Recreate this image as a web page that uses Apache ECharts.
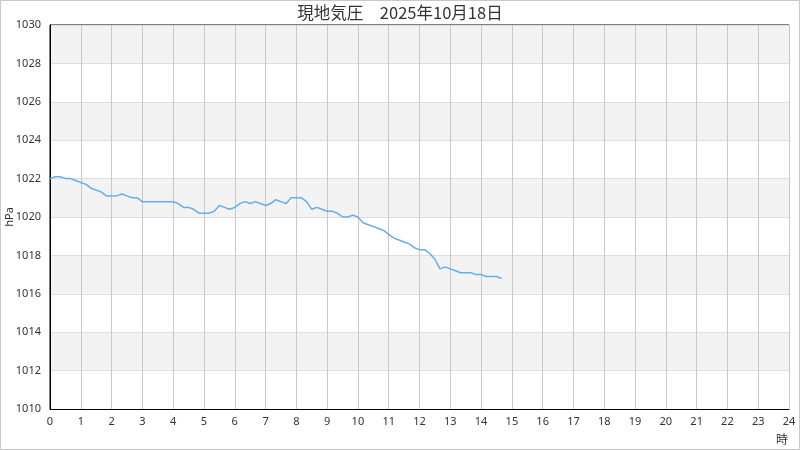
<!DOCTYPE html>
<html>
<head>
<meta charset="utf-8">
<script src="https://cdn.jsdelivr.net/npm/echarts@6/dist/echarts.min.js"></script>
<style>
html,body{margin:0;padding:0;background:#fff;}
#c{width:800px;height:450px;}
</style>
</head>
<body>
<div id="c"></div>
<script>
// ---- data ----
const titleText = '現地気圧　2025年10月18日';
const yAxisName = 'hPa';
const xAxisName = '時';
const startHour = 0;          // first observation hour
const stepMinutes = 10;       // observation interval
// pressure readings every 10 minutes from 0:00 to 14:40
const pressure = [
  1022.0, 1022.1, 1022.1, 1022.0, 1022.0, 1021.9,   // 0:00-0:50
  1021.8, 1021.7, 1021.5, 1021.4, 1021.3, 1021.1,   // 1:00-1:50
  1021.1, 1021.1, 1021.2, 1021.1, 1021.0, 1021.0,   // 2:00-2:50
  1020.8, 1020.8, 1020.8, 1020.8, 1020.8, 1020.8,   // 3:00-3:50
  1020.8, 1020.7, 1020.5, 1020.5, 1020.4, 1020.2,   // 4:00-4:50
  1020.2, 1020.2, 1020.3, 1020.6, 1020.5, 1020.4,   // 5:00-5:50
  1020.5, 1020.7, 1020.8, 1020.7, 1020.8, 1020.7,   // 6:00-6:50
  1020.6, 1020.7, 1020.9, 1020.8, 1020.7, 1021.0,   // 7:00-7:50
  1021.0, 1021.0, 1020.8, 1020.4, 1020.5, 1020.4,   // 8:00-8:50
  1020.3, 1020.3, 1020.2, 1020.0, 1020.0, 1020.1,   // 9:00-9:50
  1020.0, 1019.7, 1019.6, 1019.5, 1019.4, 1019.3,   // 10:00-10:50
  1019.1, 1018.9, 1018.8, 1018.7, 1018.6, 1018.4,   // 11:00-11:50
  1018.3, 1018.3, 1018.1, 1017.8, 1017.3, 1017.4,   // 12:00-12:50
  1017.3, 1017.2, 1017.1, 1017.1, 1017.1, 1017.0,   // 13:00-13:50
  1017.0, 1016.9, 1016.9, 1016.9, 1016.8            // 14:00-14:40
];
const xMin = 0, xMax = 24, xInterval = 1;
const yMin = 1010, yMax = 1030, yInterval = 2;

// ---- chart ----
const seriesData = pressure.map((v, i) => [startHour + i * stepMinutes / 60, v]);
const chart = echarts.init(document.getElementById('c'), null, {renderer: 'canvas'});
const labelFont = {fontFamily: 'Noto Sans', fontSize: 11, color: '#333'};
chart.setOption({
  animation: false,
  backgroundColor: '#fff',
  title: {
    text: titleText,
    left: 'center',
    top: -1,
    textStyle: {fontFamily: 'Noto Sans CJK JP', fontSize: 16.5, fontWeight: 'normal', color: '#333'}
  },
  grid: {
    left: 50, right: 11, top: 25, bottom: 41,
    containLabel: false, outerBoundsMode: 'none',
    show: true, borderColor: '#000', borderWidth: 1, backgroundColor: 'transparent'
  },
  xAxis: {
    type: 'value', min: xMin, max: xMax, interval: xInterval,
    axisLine: {show: true, lineStyle: {color: '#000', width: 1}},
    axisTick: {show: false},
    axisLabel: Object.assign({margin: 7, formatter: v => String(v)}, labelFont),
    splitLine: {show: true, lineStyle: {color: '#c8c8c8', width: 1}}
  },
  yAxis: {
    type: 'value', min: yMin, max: yMax, interval: yInterval,
    axisLine: {show: true, lineStyle: {color: '#000', width: 1}},
    axisTick: {show: false},
    axisLabel: Object.assign({margin: 9, formatter: v => String(v)}, labelFont),
    splitLine: {show: true, lineStyle: {color: '#dedede', width: 1}},
    splitArea: {show: true, areaStyle: {color: ['#ffffff', '#f3f3f3']}}
  },
  graphic: [
    {type: 'rect', shape: {x: 0.5, y: 0.5, width: 799, height: 449},
     style: {fill: 'none', stroke: '#c8c8c8', lineWidth: 1}, silent: true},
    {type: 'text', x: 10, y: 217, rotation: Math.PI / 2,
     style: {text: yAxisName, font: '11px "Noto Sans"', fill: '#333', align: 'center', verticalAlign: 'middle'}},
    {type: 'text', left: 776, top: 433,
     style: {text: xAxisName, font: '12px "Noto Sans CJK JP"', fill: '#333'}}
  ],
  series: [{
    type: 'line',
    data: seriesData,
    showSymbol: false,
    symbol: 'none',
    lineStyle: {color: '#64aef0', width: 1.5},
    z: 5
  }]
});
</script>
</body>
</html>
